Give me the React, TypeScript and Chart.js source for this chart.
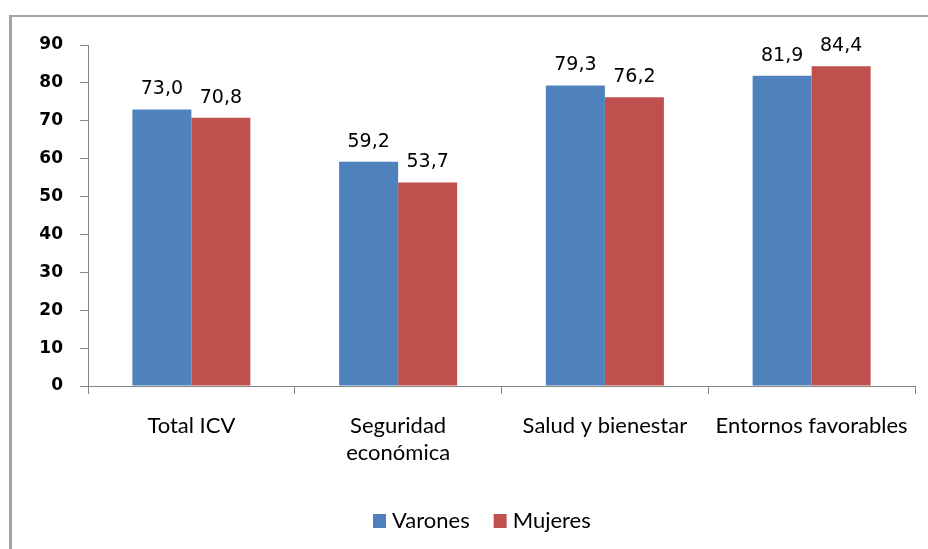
import React, { useEffect, useRef } from "react";
import { Chart, registerables } from "chart.js";

Chart.register(...registerables);

const categories: (string | string[])[] = [
  "Total ICV",
  ["Seguridad", "económica"],
  "Salud y bienestar",
  "Entornos favorables",
];
const seriesNames = ["Varones", "Mujeres"];
const varones = [73.0, 59.2, 79.3, 81.9];
const mujeres = [70.8, 53.7, 76.2, 84.4];
const yMin = 0;
const yMax = 90;
const yStep = 10;
const seriesColors = ["#4F81BD", "#C0504D"];

const W = 928;
const H = 549;
const CAT_FONT = "Lato, 'Noto Sans', sans-serif";
const NUM_FONT = "'DejaVu Sans', Verdana, sans-serif";

const valueLabelPlugin = {
  id: "valueLabels",
  afterDatasetsDraw(chart: any) {
    const ctx = chart.ctx;
    ctx.save();
    ctx.font = `19px ${NUM_FONT}`;
    ctx.fillStyle = "#000";
    ctx.textAlign = "center";
    ctx.textBaseline = "middle";
    chart.data.datasets.forEach((ds: any, di: number) => {
      const meta = chart.getDatasetMeta(di);
      meta.data.forEach((el: any, i: number) => {
        const v = ds.data[i] as number;
        ctx.fillText(v.toFixed(1).replace(".", ","), el.x, el.y - 20);
      });
    });
    ctx.restore();
  },
};

const legendPlugin = {
  id: "customLegend",
  afterDraw(chart: any) {
    const ctx = chart.ctx;
    ctx.save();
    ctx.font = `22px ${CAT_FONT}`;
    ctx.textBaseline = "middle";
    ctx.textAlign = "left";
    let x = 373;
    const cy = 521;
    chart.data.datasets.forEach((ds: any) => {
      ctx.fillStyle = ds.backgroundColor;
      ctx.fillRect(x, cy - 7, 13, 14);
      x += 19;
      ctx.fillStyle = "#000";
      ctx.fillText(ds.label, x, cy);
      x += ctx.measureText(ds.label).width + 24;
    });
    ctx.restore();
  },
};

export default function App() {
  const ref = useRef<HTMLCanvasElement | null>(null);
  useEffect(() => {
    if (!ref.current) return;
    const chart = new Chart(ref.current, {
      type: "bar",
      data: {
        labels: categories,
        datasets: [
          {
            label: seriesNames[0],
            data: varones,
            backgroundColor: seriesColors[0],
            borderWidth: 0,
          },
          {
            label: seriesNames[1],
            data: mujeres,
            backgroundColor: seriesColors[1],
            borderWidth: 0,
          },
        ],
      },
      options: {
        animation: false,
        responsive: false,
        maintainAspectRatio: false,
        layout: { padding: { top: 45, right: 13, bottom: 0, left: 0 } },
        plugins: {
          legend: { display: false },
          tooltip: { enabled: false },
          title: { display: false },
        },
        datasets: {
          bar: { categoryPercentage: 0.571, barPercentage: 1.0 },
        },
        scales: {
          x: {
            offset: true,
            grid: {
              offset: true,
              drawOnChartArea: false,
              drawTicks: true,
              tickLength: 8,
              color: "#868686",
              lineWidth: 1,
            },
            border: { color: "#868686", width: 1 },
            ticks: {
              color: "#000",
              padding: 18,
              maxRotation: 0,
              autoSkip: false,
              font: { family: CAT_FONT, size: 22, lineHeight: 1.227 },
            },
            afterFit(scale: any) {
              scale.height = 163;
            },
          },
          y: {
            min: yMin,
            max: yMax,
            grid: {
              drawOnChartArea: false,
              drawTicks: true,
              tickLength: 8,
              color: "#868686",
              lineWidth: 1,
            },
            border: { color: "#868686", width: 1 },
            ticks: {
              stepSize: yStep,
              color: "#000",
              padding: 17,
              font: { family: NUM_FONT, size: 17, weight: "bold" },
            },
            afterFit(scale: any) {
              scale.width = 88;
            },
          },
        },
      },
      plugins: [valueLabelPlugin, legendPlugin],
    } as any);
    return () => chart.destroy();
  }, []);

  return (
    <div style={{ position: "absolute", left: 0, top: 0, width: W, height: H, background: "#fff", overflow: "hidden" }}>
      <div
        style={{
          position: "absolute",
          left: 9,
          top: 15,
          width: W,
          height: H,
          borderLeft: "3px solid #a3a3a3",
          borderTop: "2px solid #a3a3a3",
        }}
      />
      <canvas ref={ref} width={W} height={H} style={{ position: "absolute", left: 0, top: 0, width: W, height: H }} />
    </div>
  );
}
